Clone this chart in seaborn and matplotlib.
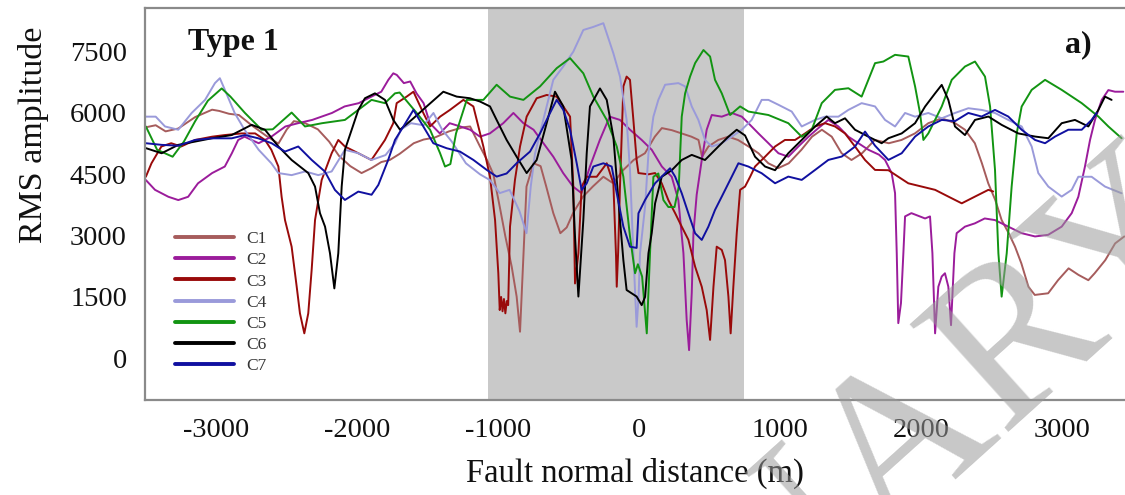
import numpy as np
import pandas as pd
import matplotlib
matplotlib.use("Agg")
import matplotlib.pyplot as plt
from matplotlib.ticker import MultipleLocator, FixedLocator
import seaborn as sns

# ---------------- data ----------------
c1_x = [-3500,-3430,-3360,-3270,-3150,-3030,-2980,-2910,-2840,-2750,-2650,-2560,-2500,-2450,-2370,-2280,-2200,-2130,-2050,-1970,-1900,-1830,-1770,-1700,-1600,-1530,-1450,-1350,-1250,-1200,-1130,-1080,-1035,-990,-950,-905,-870,-846,-822,-800,-750,-700,-660,-610,-560,-515,-470,-400,-330,-255,-185,-115,-40,40,110,160,230,300,370,420,445,490,560,630,700,775,845,915,985,1060,1150,1225,1295,1365,1435,1505,1580,1670,1770,1860,1955,2050,2145,2240,2310,2380,2430,2475,2525,2570,2620,2665,2710,2760,2805,2900,2970,3045,3115,3185,3230,3305,3375,3440]
c1_y = [5650,5700,5550,5620,5900,6080,6050,5980,5950,5700,5450,5250,5600,5800,5750,5600,5300,4950,4700,4530,4650,4800,4850,5000,5260,5350,5400,5550,5650,5670,5180,4850,4500,3710,2980,2240,1510,650,2500,4200,4770,4700,4200,3550,3060,3200,3550,3950,4200,4440,4280,4600,4850,5015,5420,5630,5580,5500,5420,5340,4930,5180,5340,5420,5340,5180,5015,4770,4650,4770,5100,5420,5590,5420,5015,4850,5015,5340,5260,5340,5500,5750,5870,5750,5590,5260,4770,4280,3870,3380,3060,2730,2320,1750,1550,1590,1910,2200,2040,1910,2080,2400,2810,2980]

c2_x = [-3500,-3435,-3340,-3270,-3200,-3130,-3030,-2940,-2890,-2845,-2800,-2700,-2610,-2510,-2420,-2320,-2180,-2090,-1990,-1900,-1830,-1780,-1745,-1720,-1670,-1625,-1580,-1530,-1485,-1415,-1345,-1270,-1200,-1130,-1060,-965,-893,-822,-750,-680,-610,-540,-470,-410,-350,-280,-210,-137,-66,17,88,160,230,277,313,336,353,372,384,407,443,478,514,585,656,727,774,845,916,987,1057,1128,1200,1270,1341,1412,1483,1554,1625,1700,1743,1790,1814,1826,1837,1856,1873,1885,1930,2027,2062,2079,2098,2121,2145,2168,2192,2211,2235,2251,2310,2380,2450,2523,2617,2712,2807,2900,2996,3067,3114,3161,3197,3232,3280,3327,3374,3433]
c2_y = [4360,4120,3950,3870,3950,4280,4530,4690,5015,5340,5420,5260,5420,5670,5750,5830,6000,6160,6240,6400,6520,6810,6970,6930,6730,6770,6480,6240,5750,5500,5750,5670,5590,5420,5500,5750,6000,5750,5590,5260,4930,4530,4200,4040,4690,5340,5910,5830,5590,5340,5100,4690,4440,3870,2570,940,200,1600,3060,4000,4850,5590,5950,5910,6000,5910,5750,5500,5260,5015,4930,5180,5420,5630,5830,5670,5420,5260,5100,4980,4850,4530,4040,2570,860,1350,2570,3470,3550,3420,3470,2570,610,1750,2000,2080,1750,810,2570,3060,3220,3300,3420,3380,3220,3060,2980,3020,3220,3550,3950,4690,5340,5830,6320,6560,6520,6520]

c3_x = [-3500,-3460,-3390,-3320,-3250,-3150,-3030,-2940,-2820,-2725,-2655,-2610,-2560,-2537,-2513,-2466,-2430,-2407,-2376,-2348,-2324,-2300,-2253,-2182,-2135,-2088,-1993,-1900,-1804,-1745,-1721,-1650,-1602,-1532,-1484,-1413,-1343,-1248,-1177,-1106,-1059,-1023,-1000,-990,-980,-970,-960,-950,-940,-930,-917,-882,-846,-799,-728,-657,-586,-539,-491,-468,-456,-432,-409,-373,-302,-231,-184,-165,-160,-150,-137,-113,-90,-66,-42,-19,-6,65,112,159,206,254,301,348,396,443,478,502,526,549,585,608,632,648,667,691,715,750,786,821,892,963,1033,1105,1176,1247,1318,1388,1459,1530,1601,1672,1767,1837,1908,2003,2098,2192,2287,2381,2476,2510]
c3_y = [4440,4770,5180,5260,5180,5340,5420,5460,5500,5500,5340,5100,4690,3950,3380,2730,1750,1100,610,1100,2160,3380,4360,5015,5340,5180,5015,4850,5340,5750,6240,6400,6520,6000,5670,5910,6075,6320,6160,5180,4440,3380,2080,1180,1500,1150,1450,1100,1400,1300,3220,4360,5180,5910,6360,6440,6400,6160,5910,4200,1830,2570,4200,4440,4440,4770,4280,2500,1750,2600,4200,6650,6890,6810,5830,4850,4530,4500,4530,4280,3870,3550,3220,2900,2240,1750,1180,450,1750,2730,2650,2400,1510,610,1750,3060,4120,4200,4440,4690,4930,5180,5340,5340,5500,5670,5750,5670,5500,5180,4850,4607,4600,4440,4280,4200,4120,3955,3790,3955,4120,4080]

c4_x = [-3500,-3430,-3364,-3270,-3175,-3080,-3010,-2975,-2940,-2870,-2800,-2700,-2610,-2560,-2466,-2370,-2277,-2182,-2088,-1993,-1900,-1800,-1733,-1690,-1620,-1530,-1460,-1400,-1330,-1230,-1130,-1060,-990,-920,-850,-800,-770,-740,-681,-610,-540,-468,-397,-330,-255,-184,-137,-90,-66,-42,-19,-5,5,41,65,100,135,183,277,325,372,419,466,514,585,656,727,797,868,916,987,1081,1152,1247,1318,1412,1483,1577,1672,1743,1814,1885,1956,2050,2145,2239,2334,2428,2523,2617,2712,2783,2830,2901,2996,3067,3114,3208,3303,3421]
c4_y = [5910,5910,5670,5590,6000,6320,6730,6850,6570,6000,5590,5100,4770,4530,4480,4570,4480,4570,5100,5015,4850,4970,5260,5600,5750,5700,6000,5600,5300,4770,4500,4360,4040,4120,3600,3060,4200,5000,5830,6810,7136,7500,8030,8100,8196,7460,6890,5830,4600,2570,770,1500,2570,3710,5015,5910,6320,6690,6730,6650,6160,5830,5340,5180,5260,5420,5590,5830,6320,6320,6200,6035,5670,5830,5910,5910,6075,6240,6160,5830,5670,6000,5910,6000,5870,6000,6116,6075,6000,5830,5670,5180,4530,4200,3955,4120,4440,4440,4200,4036]

c5_x = [-3500,-3420,-3310,-3230,-3150,-3060,-2962,-2900,-2797,-2679,-2600,-2466,-2371,-2250,-2088,-1899,-1804,-1733,-1700,-1579,-1484,-1413,-1378,-1340,-1300,-1224,-1106,-1012,-917,-822,-704,-586,-491,-397,-326,-231,-160,-113,-66,-30,-10,20,53,76,100,135,171,206,250,280,301,325,360,396,455,502,537,585,644,715,774,916,1057,1152,1223,1294,1388,1483,1577,1672,1731,1814,1908,1956,1991,2015,2050,2145,2216,2310,2381,2452,2488,2523,2547,2570,2606,2641,2677,2712,2783,2878,2996,3138,3256,3327,3421]
c5_y = [5670,5100,4930,5300,5800,6300,6600,6400,6000,5590,5600,6010,5670,5750,5830,6320,6240,6480,6500,6000,5590,5015,4690,4750,5500,6320,6320,6690,6400,6320,6650,7095,7340,6970,6400,5830,5180,4440,2980,2080,2300,2000,610,2570,4440,4520,3870,3700,3700,4200,5910,6480,6890,7220,7540,7380,6810,6480,5950,6160,6035,5950,5750,5420,5590,6240,6565,6605,6400,7218,7258,7422,7380,6650,6000,5340,5500,6157,6810,7136,7258,6890,6157,4607,2567,1508,2567,4200,5500,6157,6565,6810,6565,6240,5913,5670,5382]

c6_x = [-3500,-3388,-3270,-3033,-2891,-2750,-2655,-2560,-2466,-2348,-2300,-2265,-2229,-2194,-2163,-2135,-2111,-2088,-2040,-1993,-1946,-1875,-1804,-1745,-1697,-1602,-1508,-1390,-1295,-1201,-1130,-1059,-1012,-941,-870,-799,-728,-657,-598,-539,-480,-456,-432,-397,-373,-350,-279,-231,-184,-137,-113,-90,-19,17,41,65,88,112,159,230,301,372,466,561,632,691,750,821,892,963,1057,1152,1247,1329,1388,1459,1530,1625,1719,1767,1861,1956,2027,2098,2145,2192,2239,2310,2381,2476,2570,2688,2807,2901,2996,3090,3185,3256,3303,3350]
c6_y = [5140,5015,5220,5380,5460,5710,5590,5180,4850,4530,4200,3550,3220,2570,1710,2570,4200,5100,5590,6075,6360,6480,6320,5830,5590,5870,6160,6520,6400,6360,6280,6160,5830,5340,4930,4530,4850,5750,6520,6160,4850,2980,1510,3380,5015,6160,6600,6320,5420,3380,2400,1670,1510,1300,1500,2570,3060,3790,4440,4600,4850,4975,4850,5180,5420,5590,5450,4930,4690,4600,5015,5340,5670,5913,5750,5870,5590,5420,5260,5382,5500,5750,6157,6480,6687,6320,5670,5460,5830,5913,5709,5500,5423,5382,5750,5830,5670,6075,6400,6320]

c7_x = [-3500,-3388,-3270,-3151,-3033,-2891,-2797,-2702,-2608,-2513,-2419,-2324,-2230,-2159,-2088,-1993,-1899,-1851,-1781,-1733,-1673,-1602,-1532,-1461,-1366,-1272,-1177,-1082,-1012,-941,-870,-775,-704,-633,-586,-539,-491,-444,-409,-373,-326,-255,-196,-160,-113,-66,-19,-6,41,112,183,218,254,301,348,396,443,490,537,585,656,703,774,868,963,1057,1152,1247,1341,1436,1530,1601,1672,1767,1861,1956,2050,2145,2239,2334,2428,2523,2617,2712,2807,2878,2949,3043,3138,3208,3244]
c7_y = [5260,5220,5200,5340,5380,5380,5460,5380,5260,5056,5180,4852,4567,4118,3873,4077,4000,4240,4852,5340,5670,6075,5670,5260,5137,5056,4852,4607,4444,4520,4770,5056,5500,6000,6320,6075,5590,4770,4118,4280,4690,4770,4690,4036,3220,2730,2700,3547,3873,4281,4526,4648,4444,4036,3547,3057,2895,3220,3628,3955,4444,4770,4689,4526,4281,4444,4363,4607,4852,4934,5178,5545,5200,4852,5015,5423,5670,5830,5800,6000,5913,6075,5913,5590,5340,5260,5423,5590,5590,5830,6000]

curve_names = ["C1", "C2", "C3", "C4", "C5", "C6", "C7"]
x_lists = [c1_x, c2_x, c3_x, c4_x, c5_x, c6_x, c7_x]
y_lists = [c1_y, c2_y, c3_y, c4_y, c5_y, c6_y, c7_y]

shade_range = (-1070, 740)
x_major = [-3000, -2000, -1000, 0, 1000, 2000, 3000]
y_major = [0, 1500, 3000, 4500, 6000, 7500]

colors = {"C1": "#a65c5c", "C2": "#9b1c9b", "C3": "#990a0a", "C4": "#9a9ada",
          "C5": "#129412", "C6": "#000000", "C7": "#1010a0"}

# ---------------- build table ----------------
frames = []
for name, xs, ys in zip(curve_names, x_lists, y_lists):
    frames.append(pd.DataFrame({"x": xs, "y": ys, "curve": name}))
df = pd.concat(frames, ignore_index=True)

# ---------------- figure ----------------
sns.set_theme(style="white")
plt.rcParams["font.family"] = ["Liberation Serif", "DejaVu Serif"]
plt.rcParams["axes.unicode_minus"] = False

fig = plt.figure(figsize=(11.25, 4.95), dpi=100)
fig.patch.set_facecolor("white")
ax = fig.add_axes([145/1125, 1-400/495, 1-145/1125, (400-8.3)/495])
ax.set_facecolor("none")

ax.axvspan(shade_range[0], shade_range[1], color="#c9c9c9", lw=0, zorder=0)

sns.lineplot(data=df, x="x", y="y", hue="curve", palette=colors,
             hue_order=curve_names, sort=False, estimator=None,
             linewidth=1.4, ax=ax, zorder=2)

ax.set_xlim(-3506, 3445)
ax.set_ylim(-1020, 8560)

ax.xaxis.set_major_locator(FixedLocator(x_major))
ax.xaxis.set_minor_locator(MultipleLocator(250))
ax.yaxis.set_major_locator(FixedLocator(y_major))
ax.yaxis.set_minor_locator(MultipleLocator(375))
ax.set_xticklabels([str(v) for v in x_major])
ax.set_yticklabels([str(v) for v in y_major])

for s in ["left", "bottom", "top"]:
    ax.spines[s].set_color("#8a8a8a")
    ax.spines[s].set_linewidth(1.6)
ax.spines["right"].set_visible(False)

ax.tick_params(axis="both", which="both", direction="in", color="#8a8a8a", width=1.3)
ax.tick_params(axis="both", which="major", length=14, labelsize=20.5, labelcolor="#111111")
ax.tick_params(axis="both", which="minor", length=7.5)
ax.tick_params(axis="x", which="major", pad=13)
ax.tick_params(axis="y", which="major", pad=13)
ax.tick_params(top=False, right=False, which="both")

ax.set_xlabel("Fault normal distance (m)", fontsize=23.5, color="#111111")
ax.set_ylabel("RMS amplitude", fontsize=24.5, color="#111111")
ax.xaxis.set_label_coords(0.5, -0.188)
ax.yaxis.set_label_coords(-0.114, 0.677)
ax.xaxis.label.set_va("center")
ax.yaxis.label.set_va("center")

ax.text((188-145)/980, (400-50)/391.7, "Type 1", transform=ax.transAxes,
        fontsize=23, fontweight="bold", ha="left", va="baseline", color="#111111")
ax.text((1092-145)/980, (400-52)/391.7, "a)", transform=ax.transAxes,
        fontsize=23, fontweight="bold", ha="right", va="baseline", color="#111111")

handles, labels = ax.get_legend_handles_labels()
leg = ax.legend(handles, labels, loc="upper left",
                bbox_to_anchor=((175-145)/980, (400-231)/391.7),
                frameon=False, fontsize=12.5, handlelength=3.4,
                handletextpad=0.7, labelspacing=0.29, borderpad=0,
                borderaxespad=0)
for line in leg.get_lines():
    line.set_linewidth(2.8)
for t in leg.get_texts():
    t.set_color("#333333")

# watermark
fig.text(1186/1125, 1-194/495, "PRELIMINARY", fontsize=160, color="#9a9a9a",
         alpha=0.55, family=["Liberation Serif", "DejaVu Serif"], rotation=42,
         rotation_mode="anchor", ha="right", va="center", zorder=10)

fig.savefig("out.png", dpi=100, facecolor="white")
